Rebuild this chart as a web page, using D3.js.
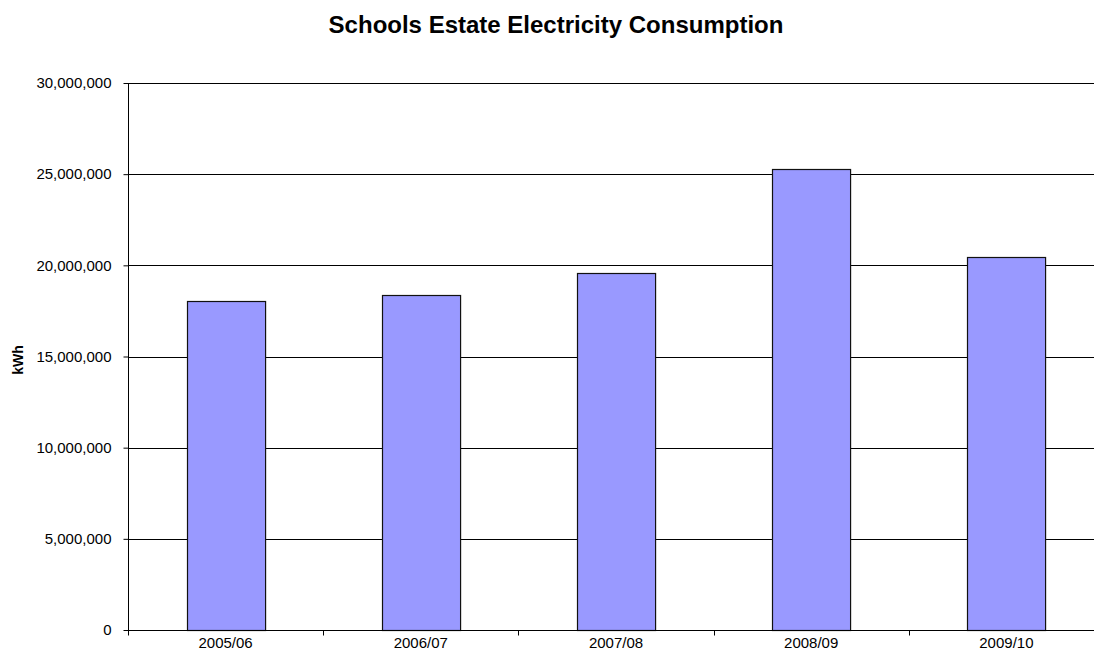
<!DOCTYPE html>
<html>
<head>
<meta charset="utf-8">
<script src="https://cdn.jsdelivr.net/npm/d3@7"></script>
<style>
  body { margin: 0; background: #fff; }
  text { font-family: "Liberation Sans", Arial, sans-serif; }
</style>
</head>
<body>
<div id="chart"></div>
<script>
// data
var years = ["2005/06", "2006/07", "2007/08", "2008/09", "2009/10"];
var kwh = [18070000, 18400000, 19580000, 25300000, 20470000];
var yTicks = [0, 5000000, 10000000, 15000000, 20000000, 25000000, 30000000];

var W = 1094, H = 658;
var margin = {top: 83, left: 128, bottom: 28};
var plotW = 976, plotH = H - margin.top - margin.bottom;

var svg = d3.select("#chart").append("svg")
    .attr("width", W)
    .attr("height", H)
    .style("display", "block");

var g = svg.append("g")
    .attr("transform", "translate(" + margin.left + "," + margin.top + ")");

var x = d3.scaleBand()
    .domain(years)
    .range([0, plotW])
    .paddingInner(0.6)
    .paddingOuter(0.3);

var y = d3.scaleLinear()
    .domain([0, 30000000])
    .range([plotH, 0]);

// gridlines
g.selectAll(".grid")
    .data(yTicks.slice(1))
    .enter().append("line")
    .attr("x1", 0)
    .attr("x2", plotW)
    .attr("y1", function(d) { return Math.round(y(d)) + 0.5; })
    .attr("y2", function(d) { return Math.round(y(d)) + 0.5; })
    .style("stroke", "#000")
    .style("stroke-width", 1);

// bars
g.selectAll(".bar")
    .data(kwh)
    .enter().append("rect")
    .attr("x", function(d, i) { return Math.round(x(years[i])) + 0.5; })
    .attr("y", function(d) { return Math.round(y(d)) + 0.5; })
    .attr("width", x.bandwidth())
    .attr("height", function(d) { return Math.round(plotH - y(d)); })
    .style("fill", "#9999ff")
    .style("stroke", "#111")
    .style("stroke-width", 1.2);

// y axis
var yAxis = g.append("g")
    .attr("transform", "translate(0.5,0)")
    .call(d3.axisLeft(y).tickValues(yTicks).tickSize(5).tickPadding(12)
      .tickFormat(d3.format(",")));
yAxis.selectAll("text").style("font-size", "15px").style("fill", "#000");
yAxis.select(".domain").attr("d", "M0," + plotH + "V0").style("stroke", "#000");
yAxis.selectAll(".tick line").style("stroke", "#000");

// x axis
var xAxis = g.append("g")
    .attr("transform", "translate(0," + (Math.round(plotH) + 0.5) + ")");
xAxis.append("line")
    .attr("x1", 0).attr("x2", plotW)
    .style("stroke", "#000");
xAxis.selectAll(".xtick")
    .data(d3.range(years.length + 1))
    .enter().append("line")
    .attr("x1", function(i) { return Math.round(i * x.step()) + 0.5; })
    .attr("x2", function(i) { return Math.round(i * x.step()) + 0.5; })
    .attr("y1", 0).attr("y2", 5)
    .style("stroke", "#000");
xAxis.selectAll(".xlabel")
    .data(years)
    .enter().append("text")
    .attr("x", function(d) { return x(d) + x.bandwidth() / 2; })
    .attr("y", 17)
    .attr("text-anchor", "middle")
    .style("font-size", "15px")
    .text(function(d) { return d; });

// y axis label
svg.append("text")
    .attr("transform", "translate(23,360) rotate(-90)")
    .attr("text-anchor", "middle")
    .style("font-size", "14px")
    .style("font-weight", "bold")
    .text("kWh");

// title
svg.append("text")
    .attr("x", 556)
    .attr("y", 33)
    .attr("text-anchor", "middle")
    .style("font-size", "24px")
    .style("font-weight", "bold")
    .text("Schools Estate Electricity Consumption");
</script>
</body>
</html>
